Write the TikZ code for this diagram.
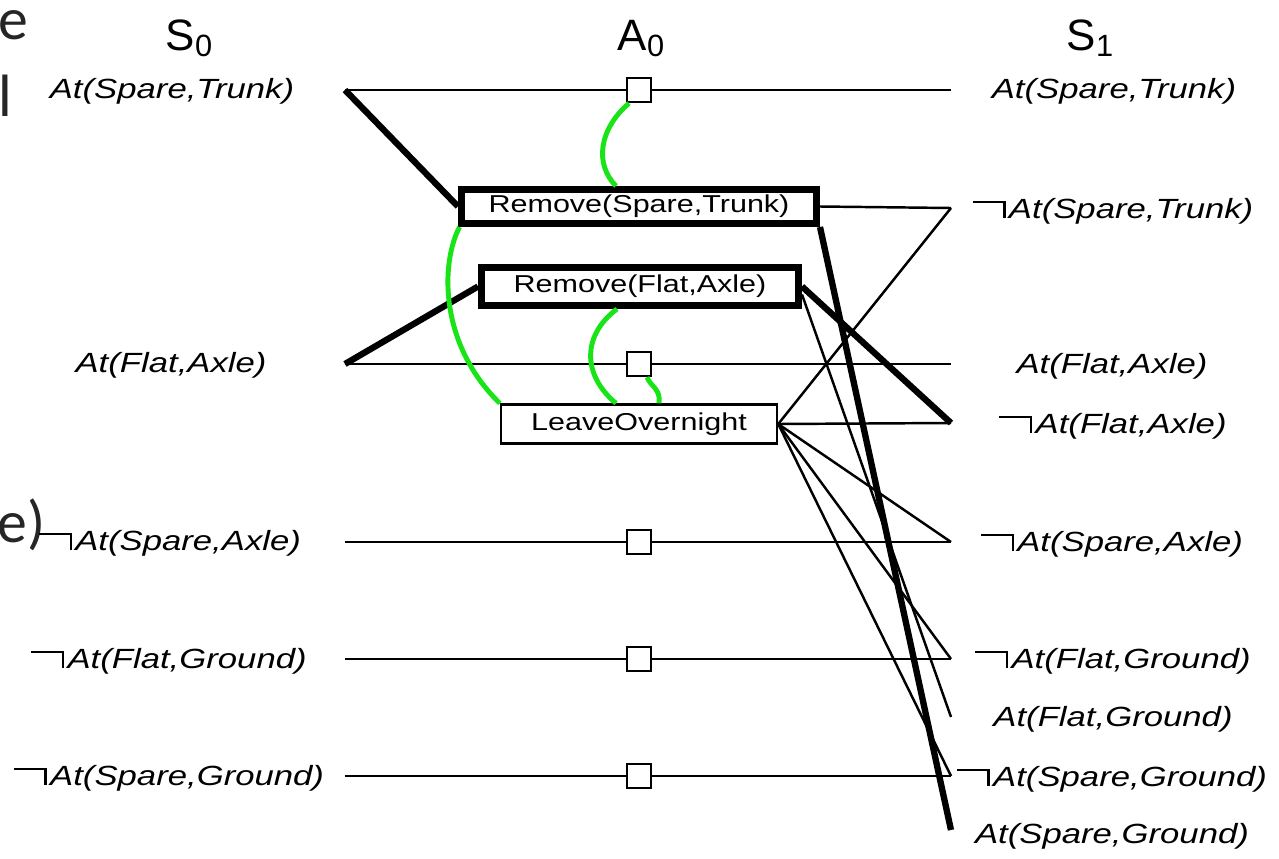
\documentclass[tikz,border=0pt]{standalone}
\usepackage{fontspec}
\setmainfont{Liberation Sans}[FakeStretch=1.25]
\newfontfamily\headfont{Liberation Sans}
\newfontfamily\slidefont{Carlito}
\definecolor{mutexgreen}{RGB}{24,228,24}
% wide negation hook in front of a literal
\newcommand{\negsign}{\rule[0.54em]{1.1em}{0.085em}\rule[0.02em]{0.085em}{0.605em}\hspace{0.12em}}

\begin{document}
\begin{tikzpicture}[x=0.1mm, y=-0.1mm,
    % literals of the two state levels
    literal/.style={font=\fontsize{7.9}{9}\selectfont\itshape, inner sep=0pt},
    % level headings S0, A0, S1
    heading/.style={font=\headfont\fontsize{12.5}{14}\selectfont, inner sep=0pt, anchor=base},
    % action boxes (the two Remove actions get a heavy border)
    action/.style={draw, fill=white, line width=0.7pt, inner sep=0pt,
        font=\fontsize{6.95}{8}\selectfont},
    heavyaction/.style={action, line width=2pt},
    % persistence (no-op) actions
    noop/.style={draw, fill=white, line width=0.7pt, minimum size=2.4mm, inner sep=0pt},
    link/.style={line width=0.7pt},
    heavylink/.style={line width=1.8pt},
    mutex/.style={line width=1.4pt, draw=mutexgreen},
    slide/.style={font=\slidefont\fontsize{17}{20}\selectfont, text=black!85,
        inner sep=0pt, anchor=base east}
]
\useasboundingbox (0,0) rectangle (1279,859);

% 0. Slide text cut off at the left edge
\node[slide] (cutA) at (29,39) {e};
\node[slide] (cutB) at (13,116) {l};
\node[slide] (cutC) at (46,542) {e)};

% 1. Level headings
\node[heading] (S0) at (190,50) {S\textsubscript{0}};
\node[heading] (A0) at (642,50) {A\textsubscript{0}};
\node[heading] (S1) at (1091,50) {S\textsubscript{1}};

% 2. Literals of S0 (with the point where their lines start)
\node[literal] (st0)  at (172,91)  {At(Spare,Trunk)};
\node[literal] (fa0)  at (171,365) {At(Flat,Axle)};
\node[literal] (nsa0) at (170,543) {\negsign At(Spare,Axle)};
\node[literal] (nfg0) at (169,661) {\negsign At(Flat,Ground)};
\node[literal] (nsg0) at (169,778) {\negsign At(Spare,Ground)};
\foreach \lit/\y in {st/90, fa/364, nsa/542, nfg/659, nsg/776}
    \coordinate (\lit0r) at (345,\y);

% 3. Literals of S1 (with the point where their lines end)
\node[literal] (st1)  at (1114,91)  {At(Spare,Trunk)};
\node[literal] (nst1) at (1113,211) {\negsign At(Spare,Trunk)};
\node[literal] (fa1)  at (1112,366) {At(Flat,Axle)};
\node[literal] (nfa1) at (1113,426) {\negsign At(Flat,Axle)};
\node[literal] (nsa1) at (1112,544) {\negsign At(Spare,Axle)};
\node[literal] (nfg1) at (1113,661) {\negsign At(Flat,Ground)};
\node[literal] (fg1)  at (1113,719) {At(Flat,Ground)};
\node[literal] (nsg1) at (1112,779) {\negsign At(Spare,Ground)};
\node[literal] (sg1)  at (1112,836) {At(Spare,Ground)};
\foreach \lit/\y in {st/90, nst/208, fa/364, nfa/423, nsa/542, nfg/659, fg/717, nsg/776, sg/830}
    \coordinate (\lit1l) at (951,\y);

% 4. Actions of A0
\node[heavyaction, minimum width=35.5mm, minimum height=3.4mm] (rst) at (639,206.5) {Remove(Spare,Trunk)};
\node[heavyaction, minimum width=31.7mm, minimum height=3.8mm] (rfa) at (640,286.5) {Remove(Flat,Axle)};
\node[action, minimum width=27.6mm, minimum height=3.9mm] (lvo) at (639,424) {LeaveOvernight};

% 5. Persistence actions carry the S0 literals over
\foreach \lit/\y in {st/90, fa/364, nsa/542, nfg/659, nsg/776} {
    \node[noop] (\lit-noop) at (639,\y) {};
    \draw[link] (\lit0r) -- (\lit-noop) -- (\lit1l);
}

% 6. Preconditions and effects
\draw[heavylink] (st0r) -- (rst.west);
\draw[heavylink] (fa0r) -- (rfa.west);
\draw[link] (rst.east) -- (nst1l);
\draw[heavylink] (rst.south east) -- (sg1l);
\draw[heavylink] (rfa.east) -- (nfa1l);
\draw[link] ([yshift=-0.8mm]rfa.east) -- (fg1l);
\foreach \t in {nst1l, nfa1l, nsa1l, nfg1l, nsg1l}
    \draw[link] (lvo.east) -- (\t);

% 7. Mutex links
\draw[mutex] ([xshift=-1mm]st-noop.south) .. controls (598,130) and (595,165) .. ([xshift=-2.3mm]rst.north);
\draw[mutex] ([xshift=0.15mm]rst.south west) .. controls (440,265) and (440,345) .. (lvo.north west);
\draw[mutex] ([xshift=-2.3mm]rfa.south) .. controls (582,335) and (582,375) .. ([xshift=-2.3mm]lvo.north);
\draw[mutex] ([xshift=0.8mm]fa-noop.south) .. controls (651,387) and (661,389) .. ([xshift=2mm]lvo.north);

\end{tikzpicture}
\end{document}
